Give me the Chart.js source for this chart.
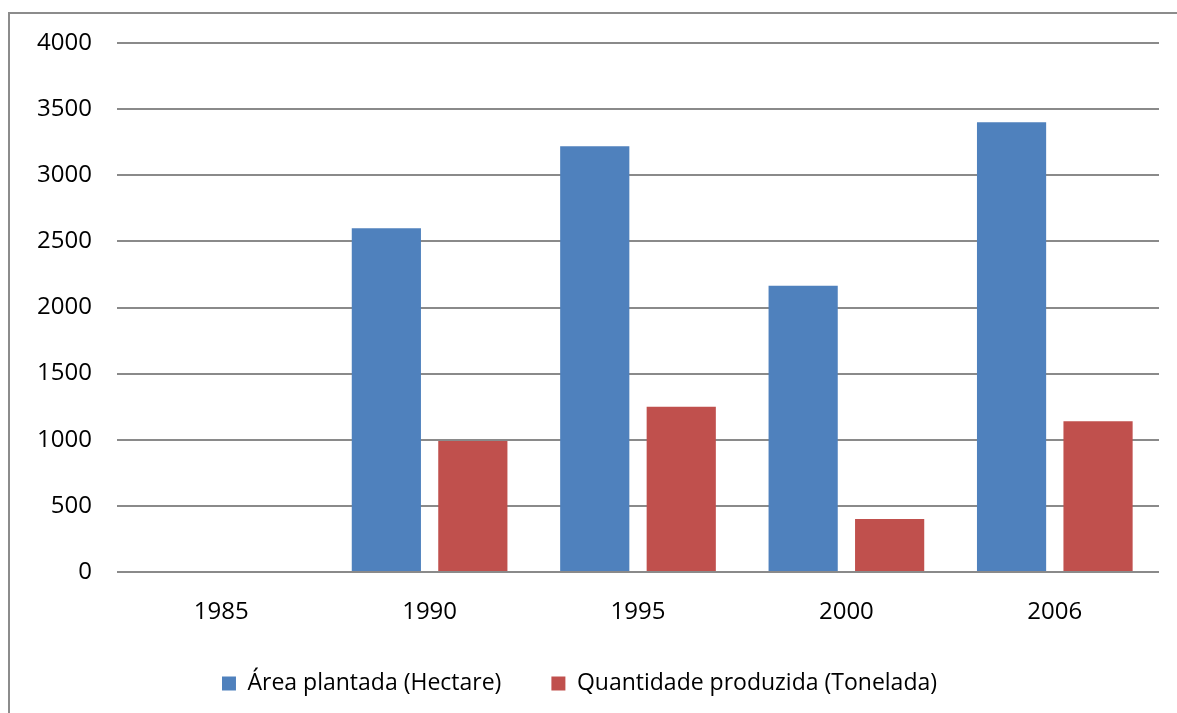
<!DOCTYPE html>
<html>
<head>
<meta charset="utf-8">
<script src="https://cdn.jsdelivr.net/npm/chart.js@4"></script>
<style>
  html, body { margin: 0; padding: 0; background: #fff; overflow: hidden; }
  #frame {
    position: absolute; left: 8px; top: 12px; width: 1200px; height: 720px;
    border: 2px solid #8c8c8c; box-sizing: border-box;
  }
  #wrap { position: absolute; left: 0; top: 0; width: 1177px; height: 713px; }
</style>
</head>
<body>
<div id="frame"></div>
<div id="wrap"><canvas id="chart"></canvas></div>
<script>
const years = ["1985", "1990", "1995", "2000", "2006"];
const areaPlantada = [8, 2600, 3220, 2165, 3400];
const quantidadeProduzida = [0, 990, 1250, 400, 1140];
const yTicks = [0, 500, 1000, 1500, 2000, 2500, 3000, 3500, 4000];

const font = { family: "'Open Sans', sans-serif", size: 24 };
const legendFont = { family: "'Open Sans', sans-serif", size: 23 };

const ctx = document.getElementById("chart").getContext("2d");

new Chart(ctx, {
    type: 'bar',
    data: {
        labels: years,
        datasets: [
            {
                label: 'Área plantada (Hectare)',
                data: areaPlantada,
                backgroundColor: '#4F81BD',
                borderWidth: 0
            },
            {
                label: 'Quantidade produzida (Tonelada)',
                data: quantidadeProduzida,
                backgroundColor: '#C0504D',
                borderWidth: 0
            }
        ]
    },
    options: {
        responsive: true,
        maintainAspectRatio: false,
        animation: false,
        categoryPercentage: 0.83,
        barPercentage: 0.8,
        layout: { padding: { left: 0, right: 18, top: 43, bottom: 8 } },
        plugins: {
            tooltip: { enabled: false },
            legend: {
                position: 'bottom',
                labels: {
                    font: legendFont,
                    color: '#000',
                    boxWidth: 14,
                    boxHeight: 14,
                    padding: 50
                }
            }
        },
        scales: {
            x: {
                grid: { display: false },
                border: { display: false },
                ticks: { font: font, color: '#000', padding: 18 },
                afterFit: (scale) => { scale.height = 50; }
            },
            y: {
                min: 0,
                max: 4000,
                afterBuildTicks: (scale) => { scale.ticks = yTicks.map(v => ({ value: v })); },
                grid: { color: '#8a8a8a', lineWidth: 2, drawTicks: false },
                border: { display: false },
                ticks: {
                    font: font,
                    color: '#000',
                    padding: 25,
                    callback: (v) => String(v)
                },
                afterFit: (scale) => { scale.width = 117; }
            }
        }
    }
});
</script>
</body>
</html>
